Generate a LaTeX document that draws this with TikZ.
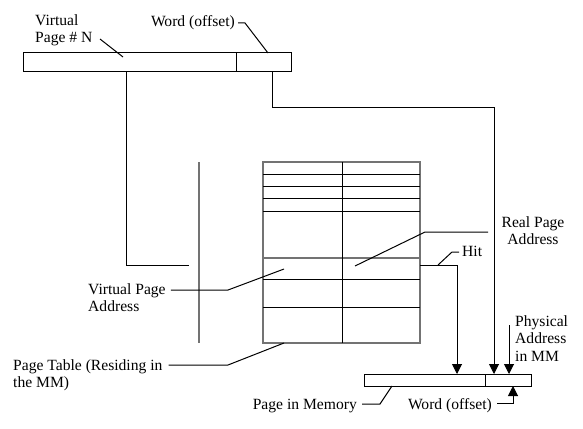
\documentclass[tikz,border=0pt]{standalone}
\usepackage{fontspec}
\setmainfont{Liberation Serif}
\usetikzlibrary{arrows.meta}
\usetikzlibrary{positioning}
\tikzset{wire/.style = {line width=1pt},
         grey/.style = {line width=1.2pt, black!55},
         lbl/.style = {inner sep=0pt, font=\fontsize{15.6}{17.6}\selectfont, align=left},
         tip/.style = {-{Triangle[width=10pt,length=10pt]}}}

\begin{document}
\begin{tikzpicture}[x=1pt, y=-1pt]
      \useasboundingbox (0,0) rectangle (583,428);
      % virtual address
      \draw [wire] (23,53) rectangle (291,71);
      \draw [wire] (236,53) -- (236,71);
      % page table
      \draw [grey] (263,162) rectangle (420,343);
      \foreach \r in {174,186,198,211,279,307}
        \draw [wire] (263,\r) -- (420,\r);
      \draw [grey] (263,258) -- (420,258);
      \draw [wire] (342,162) -- (342,343);
      \draw [grey] (199,162) -- (199,343);
      % physical address
      \draw [wire] (364,374) rectangle (531,386);
      \draw [wire] (485,374) -- (485,386);

      \coordinate (vpn) at (126,71);
      \coordinate (off) at (272,71);
      \coordinate (tblin) at (189,265);
      \coordinate (tblout) at (420,265);
      \coordinate (pgin) at (457,374);
      \coordinate (wdin) at (494,374);
      \coordinate (pain) at (509,374);
      \coordinate (pafrom) at (509,325);
      \coordinate (wdup) at (513,386);

      \draw [wire] (vpn) |- (tblin);
      \draw [wire, tip] (off) -- ++(0,36) -| (wdin);
      \draw [wire, tip] (tblout) -| (pgin);
      \draw [wire, tip] (pafrom) -- (pain);

      % labels
      \node [lbl, anchor=north west] (vpnlbl) at (35,14.3) {Virtual\\Page \# N};
      \node [lbl, anchor=base east] (wordlbl) at (235,27) {Word (offset)};
      \node [lbl, anchor=north west] (vpalbl) at (88,283.3) {Virtual Page\\Address};
      \node [lbl, anchor=north west] (ptlbl) at (13,359.3) {Page Table (Residing in\\the MM)};
      \node [lbl, anchor=north, align=center] (rpalbl) at (533,216.3) {Real Page\\Address};
      \node [lbl, anchor=base west] (hitlbl) at (462,256) {Hit};
      \node [lbl, anchor=north west] (palbl) at (515,315.3) {Physical\\Address\\in MM};
      \node [lbl, anchor=base east] (pimlbl) at (357,409) {Page in Memory};
      \node [lbl, anchor=base east] (wofflbl) at (492,409) {Word (offset)};

      % leaders
      \coordinate (vpnend) at (100,39);
      \draw [wire] (vpnend) -- (123,57);
      \draw [wire] (wordlbl.east |- 0,23) ++(3,0) -- ++(7,0) -- (268,53);
      \draw [wire] (vpalbl.east |- 0,290) ++(5,0) -- (228,290) -- (284,269);
      \draw [wire] (ptlbl.east |- 0,365) ++(6,0) -- (228,365) -- (284,343);
      \draw [wire] (355,266) -- (425,232) -- (488,232);
      \draw [wire] (438,265) -- (452,252) -- (459,252);
      \draw [wire] (pimlbl.east |- 0,404) ++(5,0) -- (380,404) -- (392,386);
      \draw [wire, tip] (wofflbl.east |- 0,403) ++(5,0) -| (wdup);
\end{tikzpicture}
\end{document}
